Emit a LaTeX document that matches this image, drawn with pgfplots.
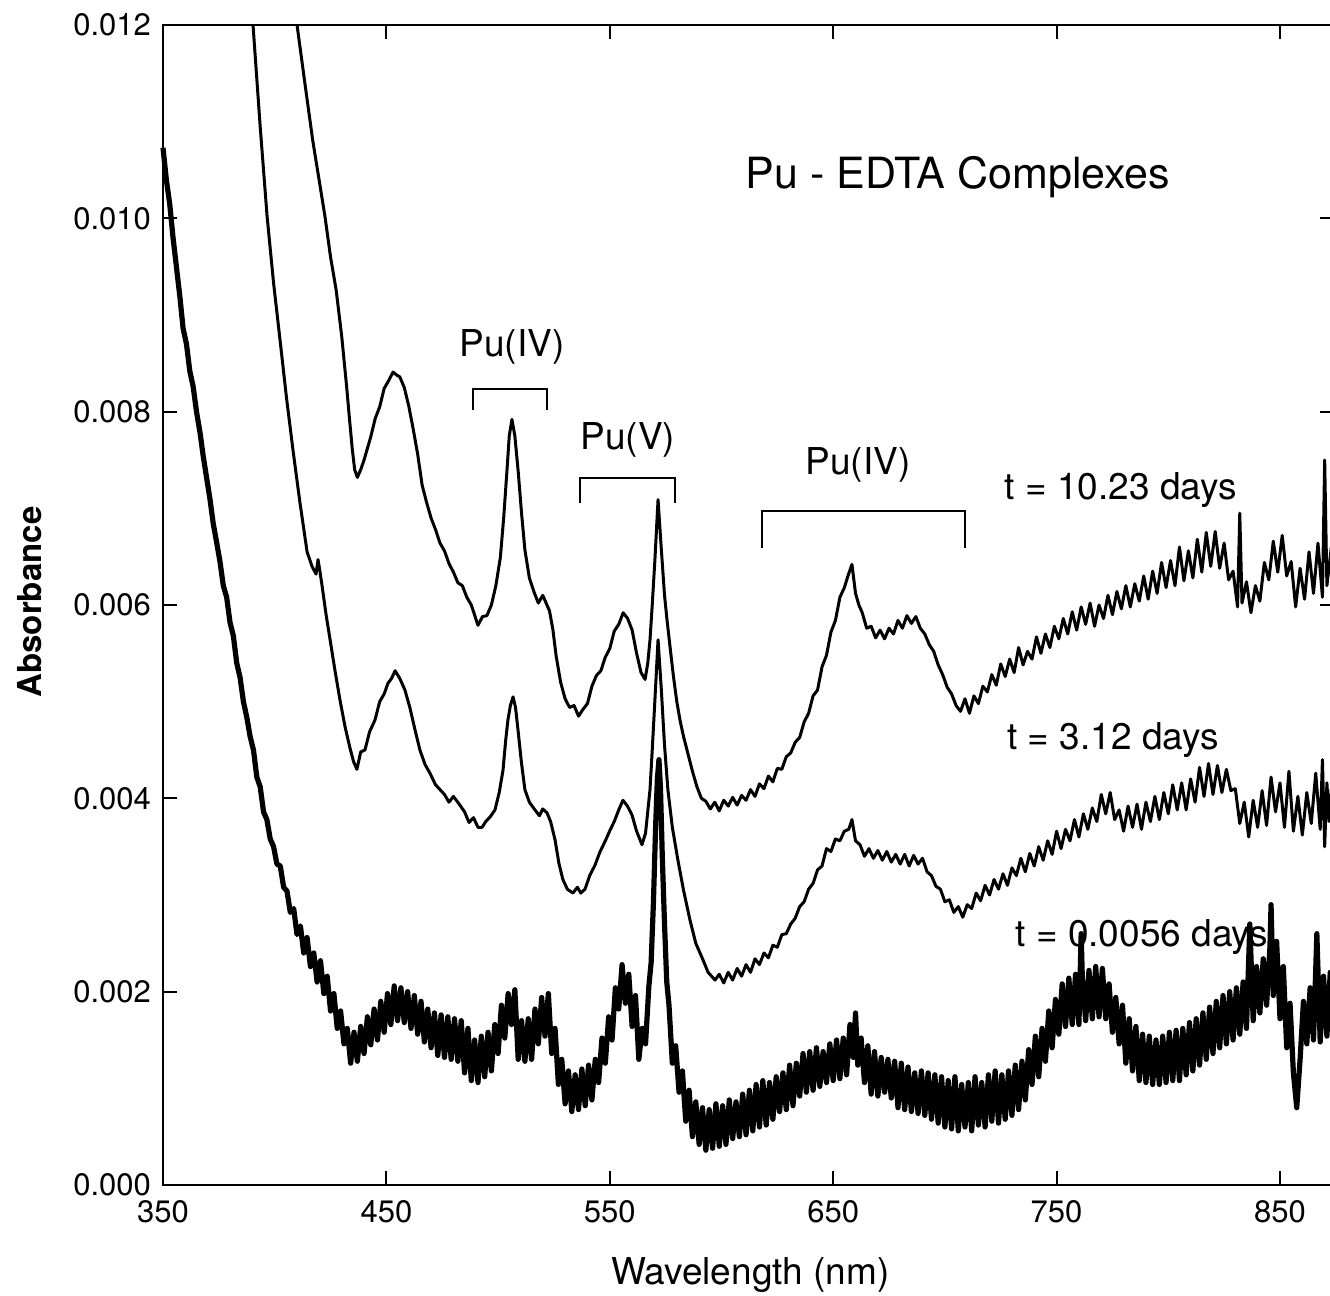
\documentclass[border=0pt]{standalone}
\usepackage{fontspec}
\setmainfont{TeX Gyre Heros}
\usepackage{pgfplots}
\pgfplotsset{compat=1.18}
\begin{document}
\begin{tikzpicture}
\useasboundingbox (-81.5pt,-55.5pt) rectangle (583.5pt,592.5pt);
\begin{axis}[
  name=ax, at={(0,0)}, anchor=south west,
  scale only axis, width=585.3pt, height=580pt,
  xmin=350, xmax=874, ymin=0, ymax=120,
  xtick={350,450,...,850}, ytick={0,20,...,120},
  yticklabels={0.000,0.002,0.004,0.006,0.008,0.010,0.012},
  tick align=inside, major tick length=7pt,
  tick style={line width=1pt, black},
  axis line style={line width=1.2pt},
  tick label style={font=\fontsize{15.5}{18}\selectfont},
  yticklabel style={xshift=-2.5pt},
  xticklabel style={yshift=-4pt},
  /pgf/number format/assume math mode=true,
  /pgf/number format/set thousands separator={},
  xlabel={Wavelength (nm)},
  xlabel style={at={(axis description cs:0.5017,-0.0776)}, anchor=center, font=\fontsize{18.5}{22}\selectfont},
  ylabel={\bfseries Absorbance},
  ylabel style={at={(axis description cs:-0.1137,0.5026)}, anchor=center, font=\fontsize{16.5}{20}\selectfont},
  clip=false,
]
% t = 10.23 days (units of 1e-4 absorbance)
\addplot[black, line width=1.5pt, line join=round] table {
x y
410 120
413.5 114
417 108.1
420 103.8
422.5 100.2
425 96
427.5 92.6
430 87.8
432.2 82.6
433.5 79.2
434.7 76.2
435.8 74.0
437 73.2
438.5 74.0
440 75.0
441.5 76.2
443 77.4
445 79.3
447 80.5
449 82.4
451 83.2
453 84.1
454.5 83.8
456 83.6
458 82.5
460 80.6
462 78.2
464 75.6
466 72.4
468 70.6
470 69.0
472 67.8
474 66.4
476 65.6
478 64.3
480 63.4
482 62.3
484 62.0
486 60.8
488 60.0
490 58.6
491 57.9
493 58.8
495 58.9
497 60.0
499 62.0
501 64.9
502.5 69
504 74
505 77.5
506.2 79.2
507.5 77.5
509 73.8
510.5 69.5
512 65.7
514 62.8
516 61.4
518 60.2
520 61.0
521.5 60.2
523 59.4
524.5 57.5
526 54.7
528 52.0
530 50.3
532 49.4
534 49.6
536 48.5
538 49.2
540 49.8
542 51.6
544 52.7
546 53.2
548 54.6
550 55.5
552 57.3
554 58.0
556 59.2
558 58.6
560 57.4
562 55.0
564 53.0
565.8 52.3
567 54.0
568 56.4
569 60
570.2 64.7
571.6 70.9
573 66
574.5 61
575.6 58.5
577 55.6
578.5 52.6
580 50.0
581.5 48.0
583 46.4
585 44.6
587 42.8
589 41.2
591 40.0
593 39.7
595 38.9
597 39.6
599 38.7
601 39.8
603 39.2
605 40.1
607 39.3
609 40.3
611 39.8
613 40.9
615 40.2
617 41.5
619 41.0
621 42.3
623 41.7
625 43.1
627 43.0
629 44.3
631 44.7
633 45.8
635 46.3
637 47.9
639 48.8
641 50.6
643 51.2
645 53.6
647 54.8
649 57.2
651 58.4
653 60.8
655 61.8
656.6 63.0
658.4 64.2
660 61.2
661.5 60.0
663 59.2
665 57.6
667 57.8
669 56.6
671 57.4
673 56.5
675 57.6
677 57.0
679 58.4
681 57.6
683 58.9
685 58.1
687 58.8
689 57.6
691 57.0
693 55.9
695 55.2
697 53.8
699 52.8
701 51.5
703 50.8
705 49.6
707 49.0
709 50.3
711 48.8
713 50.6
715 49.8
717 51.6
719 51.0
721 52.8
723 51.7
725 53.9
727 52.6
729 54.4
731 53.0
733 55.6
735 53.8
737 55.2
739 54.4
741 56.7
743 55.0
745 57.0
747 55.6
749 57.8
751 56.5
753 58.6
755 57.0
757 59.3
759 57.4
761 59.8
763 58.0
765 60.2
767 57.8
769 60.0
771 58.6
773 61.0
775 59.0
777 61.4
779 59.6
781 62.0
783 59.8
785 62.2
787 60.4
789 63.0
791 60.6
793 63.5
795 61.2
797 64.4
799 61.8
801 64.6
803 62.0
805 66.0
807 62.5
809 65.6
811 62.8
813 66.8
815 63.4
817 67.5
819 64.0
821 67.6
823 63.8
825 66.4
827 62.6
829 63.5
831 59.8
832 69.5
833 60.2
835 62.4
837 59.2
839 62.0
841 60.4
843 64.4
845 62.6
847 66.6
849 63.4
851 67.2
853 63.0
855 64.5
857 59.8
859 63.8
861 60.6
863 65.5
865 61.2
867 66.4
869 60.8
870 75
871 62.0
873 66.0
874 63.5
};
% t = 3.12 days
\addplot[black, line width=1.5pt, line join=round] table {
x y
390.3 120
393.5 109.5
396.6 100.2
399.5 93.3
402.4 87.4
405.3 81.4
408.2 76.0
411.3 70.6
414.5 65.5
416.7 64.0
418.5 63.2
419.4 64.7
420.3 63.4
421.2 62.0
423 59.0
424.8 56.4
427 53.2
429.2 50.2
431.5 47.4
433.7 45.2
435.3 43.8
436.8 43.0
438.5 44.8
440.4 45.0
442.5 46.9
444.9 48.1
447 50.0
449 50.8
450.7 51.9
452.3 52.4
453.9 53.2
456 52.4
458.3 51.2
460.5 49.4
462.8 47.1
465 45.0
467.3 43.5
469.5 42.6
472 41.4
474 40.9
476 40.4
478 39.6
480 40.2
482.9 39.3
485 38.6
487 37.5
489 38.0
491 37.0
492.8 37.0
494.5 37.6
496.5 38.1
498.6 38.8
500.5 40.6
502.2 42.9
503.4 46
504.4 48.1
505.5 49.6
506.7 50.5
507.8 49.4
508.9 47.1
510.5 43.6
512 40.9
514 39.6
516.5 38.8
518.5 38.2
520 38.9
521.9 38.5
523.5 37.6
525.5 35.7
527.2 33.3
529 31.6
531 30.6
533.5 30.2
535.5 30.8
537 30.2
538.9 30.6
541 32.0
543.4 33.1
545.5 34.4
548 35.6
550.1 36.7
552 37.6
554 38.8
555.9 39.8
557.9 39.2
559.9 38.3
562 36.6
564.4 35.2
566 36.4
568 40.9
569 45
570.2 50.2
571.6 56.4
573 51.5
574.5 45.5
576 40.9
578 37.0
580.5 33.6
583 30.5
585.9 27.4
588.5 25.0
591.7 23.3
594 22.0
597.1 21.2
599 21.8
601 20.9
603 22.0
605 21.2
607 22.4
609 21.6
611 22.8
613 22.0
615 23.4
617 22.8
619 24.0
621 23.5
623 24.8
625 24.6
627 25.9
629 26.0
631 27.0
633 27.6
635 28.8
637 29.3
639 30.6
641 31.2
643 32.6
645 33.0
647 34.8
649 34.5
651 35.8
653 35.6
655 36.6
657 36.8
658.4 37.8
660 35.6
662 35.2
664 34.0
666 34.8
668 33.8
670 34.6
672 33.6
674 34.5
676 33.4
678 34.2
680 33.2
682 34.2
684 33.0
686 34.1
688 33.2
690 33.8
692 32.4
694 32.0
696 30.9
698 30.6
700 29.3
702 29.5
704 28.2
706 28.8
708 27.7
710 29.0
712 28.6
714 30.2
716 29.4
718 31.0
720 30.0
722 31.6
724 30.6
726 32.2
728 31.0
730 32.8
732 32.0
734 33.8
736 32.4
738 34.3
740 33.0
742 35.0
744 33.6
746 35.6
748 34.2
750 36.6
752 34.8
754 36.8
756 35.6
758 37.8
760 36.0
762 38.4
764 36.8
766 39.0
768 37.6
770 40.4
772 38.4
774 40.6
776 37.8
778 38.8
780 36.6
782 39.2
784 37.0
786 39.4
788 36.8
790 39.6
792 37.6
794 40.2
796 37.8
798 40.6
800 38.4
802 41.4
804 38.8
806 41.6
808 38.8
810 42.0
812 39.6
814 43.2
816 40.2
818 43.6
820 40.4
822 43.4
824 40.6
826 43.0
828 40.8
830 41.0
832 37.4
834 39.6
836 36.0
838 39.8
840 37.0
842 40.8
844 37.2
846 42.2
848 38.6
850 41.6
852 37.0
854 42.8
856 36.6
858 40.2
860 36.2
862 40.6
864 37.4
866 42.6
868 36.8
869 44
870 35
871 41.6
872 37.6
873 41.0
874 38.0
};
% t = 0.0056 days
\addplot[black, line width=2.6pt, line join=round] table {
x y
350 107.3
351.5 104.0
353 101.5
354.5 98.0
356 95.0
357.6 91.8
359 88.6
360.5 87.0
362 84.2
363.5 82.6
365 80.0
366.6 77.8
368 75.4
369.5 73.2
371 71.0
372.5 68.4
374 66.5
375.5 64.5
377 62.0
378.5 60.8
380 58.2
381.5 56.8
383 54.0
384.5 52.5
386 50.0
387.5 48.4
389 46.4
390.5 45.0
392 42.2
393.5 41.2
395 38.6
396.5 37.8
398 35.8
399.5 35.0
401 33.2
402.5 33.0
404 30.8
405.5 30.4
407 28.2
408.5 28.6
410 25.9
411.5 26.8
413 24.0
414.5 25.6
416 22.6
417.5 24.0
419 21.0
420.5 23.2
422 19.8
423.5 21.6
425 18.0
426.5 19.8
428 16.2
429.5 18.0
431 14.6
432.5 16.2
434 12.6
435.5 15.8
437 12.8
438.5 16.4
440 13.6
441.5 17.4
443 14.5
444.5 18.2
446 15.0
447.5 19.0
449 15.8
450.5 19.8
452 16.6
453.5 20.6
455 17.0
456.5 20.4
458 16.8
459.5 20.0
461 16.2
462.5 19.6
464 15.6
465.5 19.0
467 14.8
468.5 18.2
470 14.2
471.5 17.8
473 13.4
474.5 17.6
476 13.2
477.5 17.4
479 13.0
480.5 17.2
482 12.8
483.5 17.0
485 11.6
486.5 16.2
488 10.8
489.5 15.0
491 10.6
492.5 15.4
494 11.2
495.5 15.8
497 11.8
498.5 16.6
500 13.6
501.5 18.6
503 15.2
504.5 19.8
506 16.6
507.5 20.2
509 13.0
510.5 17.0
512 12.8
513.5 17.2
515 13.0
516.5 18.2
518 14.6
519.5 19.4
521 15.4
522.5 19.8
524 13.6
525.5 16.2
527 10.4
528.5 13.0
530 8.4
531.5 11.8
533 7.6
534.5 11.4
536 7.8
537.5 12.0
539 8.2
540.5 12.4
542 8.8
543.5 13.0
545 10.6
546.5 15.2
548 12.6
549.5 17.4
551 15.0
552.5 20.4
554 18.2
555.5 22.8
557 18.8
558.5 21.8
560 16.4
561.5 19.6
563 13.0
564.5 16.2
566 14.6
567.5 20.6
568.5 23
569.5 29
570.5 37
571.3 42
572 44
572.7 41
573.5 34
574.5 27
575.5 21
576.5 18.6
578 12.6
579.5 14.4
581 9.6
582.5 11.8
584 6.6
585.5 9.8
587 5.0
588.5 8.6
590 4.2
591.5 8.0
593 3.6
594.5 7.8
596 3.8
597.5 8.4
599 4.0
600.5 8.2
602 4.2
603.5 8.8
605 4.8
606.5 8.6
608 5.0
609.5 9.4
611 5.2
612.5 9.8
614 5.6
615.5 10.4
617 6.0
618.5 10.8
620 6.2
621.5 10.6
623 6.8
624.5 11.2
626 7.6
627.5 11.6
629 7.8
630.5 12.4
632 8.2
633.5 12.6
635 9.2
636.5 13.6
638 9.6
639.5 13.8
641 9.8
642.5 14.2
644 10.2
645.5 13.8
647 10.6
648.5 14.6
650 10.8
651.5 15.0
653 11.0
654.5 15.2
656 11.4
657.5 16.6
659 13.2
660 17.8
661 12.4
662.5 15.2
664 10.6
665.5 14.4
667 9.4
668.5 13.8
670 9.2
671.5 13.2
673 9.6
674.5 13.0
676 9.0
677.5 12.8
679 8.0
680.5 12.6
682 7.8
683.5 12.2
685 7.6
686.5 11.6
688 7.4
689.5 11.8
691 7.2
692.5 11.6
694 6.8
695.5 11.4
697 6.4
698.5 11.2
700 6.0
701.5 10.8
703 5.8
704.5 11.2
706 5.6
707.5 10.4
709 6.0
710.5 10.6
712 5.6
713.5 11.2
715 6.2
716.5 10.6
718 6.0
719.5 11.4
721 6.6
722.5 11.8
724 6.4
725.5 11.4
727 6.8
728.5 11.8
730 7.2
731.5 12.4
733 7.8
734.5 12.8
736 8.8
737.5 14.0
739 10.4
740.5 15.4
742 11.2
743.5 16.2
745 12.8
746.5 18.0
748 14.2
749.5 19.2
751 15.6
752.5 20.8
754 16.4
755.5 21.4
757 16.6
758.5 21.8
760 16.6
761 26
761.5 21.6
763 17.0
764.5 22.2
766 17.2
767.5 22.6
769 17.4
770.5 22.4
772 17.2
773.5 20.8
775 15.8
776.5 19.4
778 14.6
779.5 18.6
781 12.6
782.5 17.2
784 11.8
785.5 16.4
787 10.8
788.5 15.6
790 10.6
791.5 15.4
793 10.4
794.5 15.0
796 10.4
797.5 15.4
799 10.6
800.5 15.8
802 10.8
803.5 16.0
805 10.8
806.5 16.2
808 11.4
809.5 16.8
811 11.8
812.5 17.2
814 12.4
815.5 17.8
817 13.0
818.5 18.4
820 13.6
821.5 19.0
823 14.2
824.5 19.6
826 14.6
827.5 20.0
829 15.0
830.5 20.4
832 15.6
833.5 21.0
835 16.2
836.5 27.0
838 17.0
839.5 22.6
841 17.8
842.5 23.4
844 18.6
845.5 24.6
846 29.0
847 19.6
848.5 25.2
850 17.2
851.5 22.6
853 14.2
854.5 18.8
856 11.6
857.5 8.0
859 13.0
860.5 19.0
862 14.6
863.5 20.4
865 15.0
866.5 26.0
868 14.8
869.5 21.6
871 15.4
872.5 22.0
874 17.0
};
% annotations
\node[font=\fontsize{21.5}{26}\selectfont] at (axis cs:705.9,104.3) {Pu - EDTA Complexes};
\begin{scope}[font=\fontsize{18.5}{22}\selectfont]
\node at (axis cs:506.2,86.7) {Pu(IV)};
\node at (axis cs:558.1,77.1) {Pu(V)};
\node at (axis cs:661.1,74.5) {Pu(IV)};
\node at (axis cs:778.8,71.9) {t = 10.23 days};
\node at (axis cs:775.3,46.0) {t = 3.12 days};
\node at (axis cs:788.2,25.7) {t = 0.0056 days};
\end{scope}
\draw[line width=1pt] (axis cs:488.8,80.2) -- (axis cs:488.8,82.3) -- (axis cs:521.9,82.3) -- (axis cs:521.9,80.2);
\draw[line width=1pt] (axis cs:536.7,70.6) -- (axis cs:536.7,73.1) -- (axis cs:579.2,73.1) -- (axis cs:579.2,70.6);
\draw[line width=1pt] (axis cs:618.1,65.9) -- (axis cs:618.1,69.7) -- (axis cs:709.0,69.7) -- (axis cs:709.0,65.9);
\end{axis}
\end{tikzpicture}
\end{document}
